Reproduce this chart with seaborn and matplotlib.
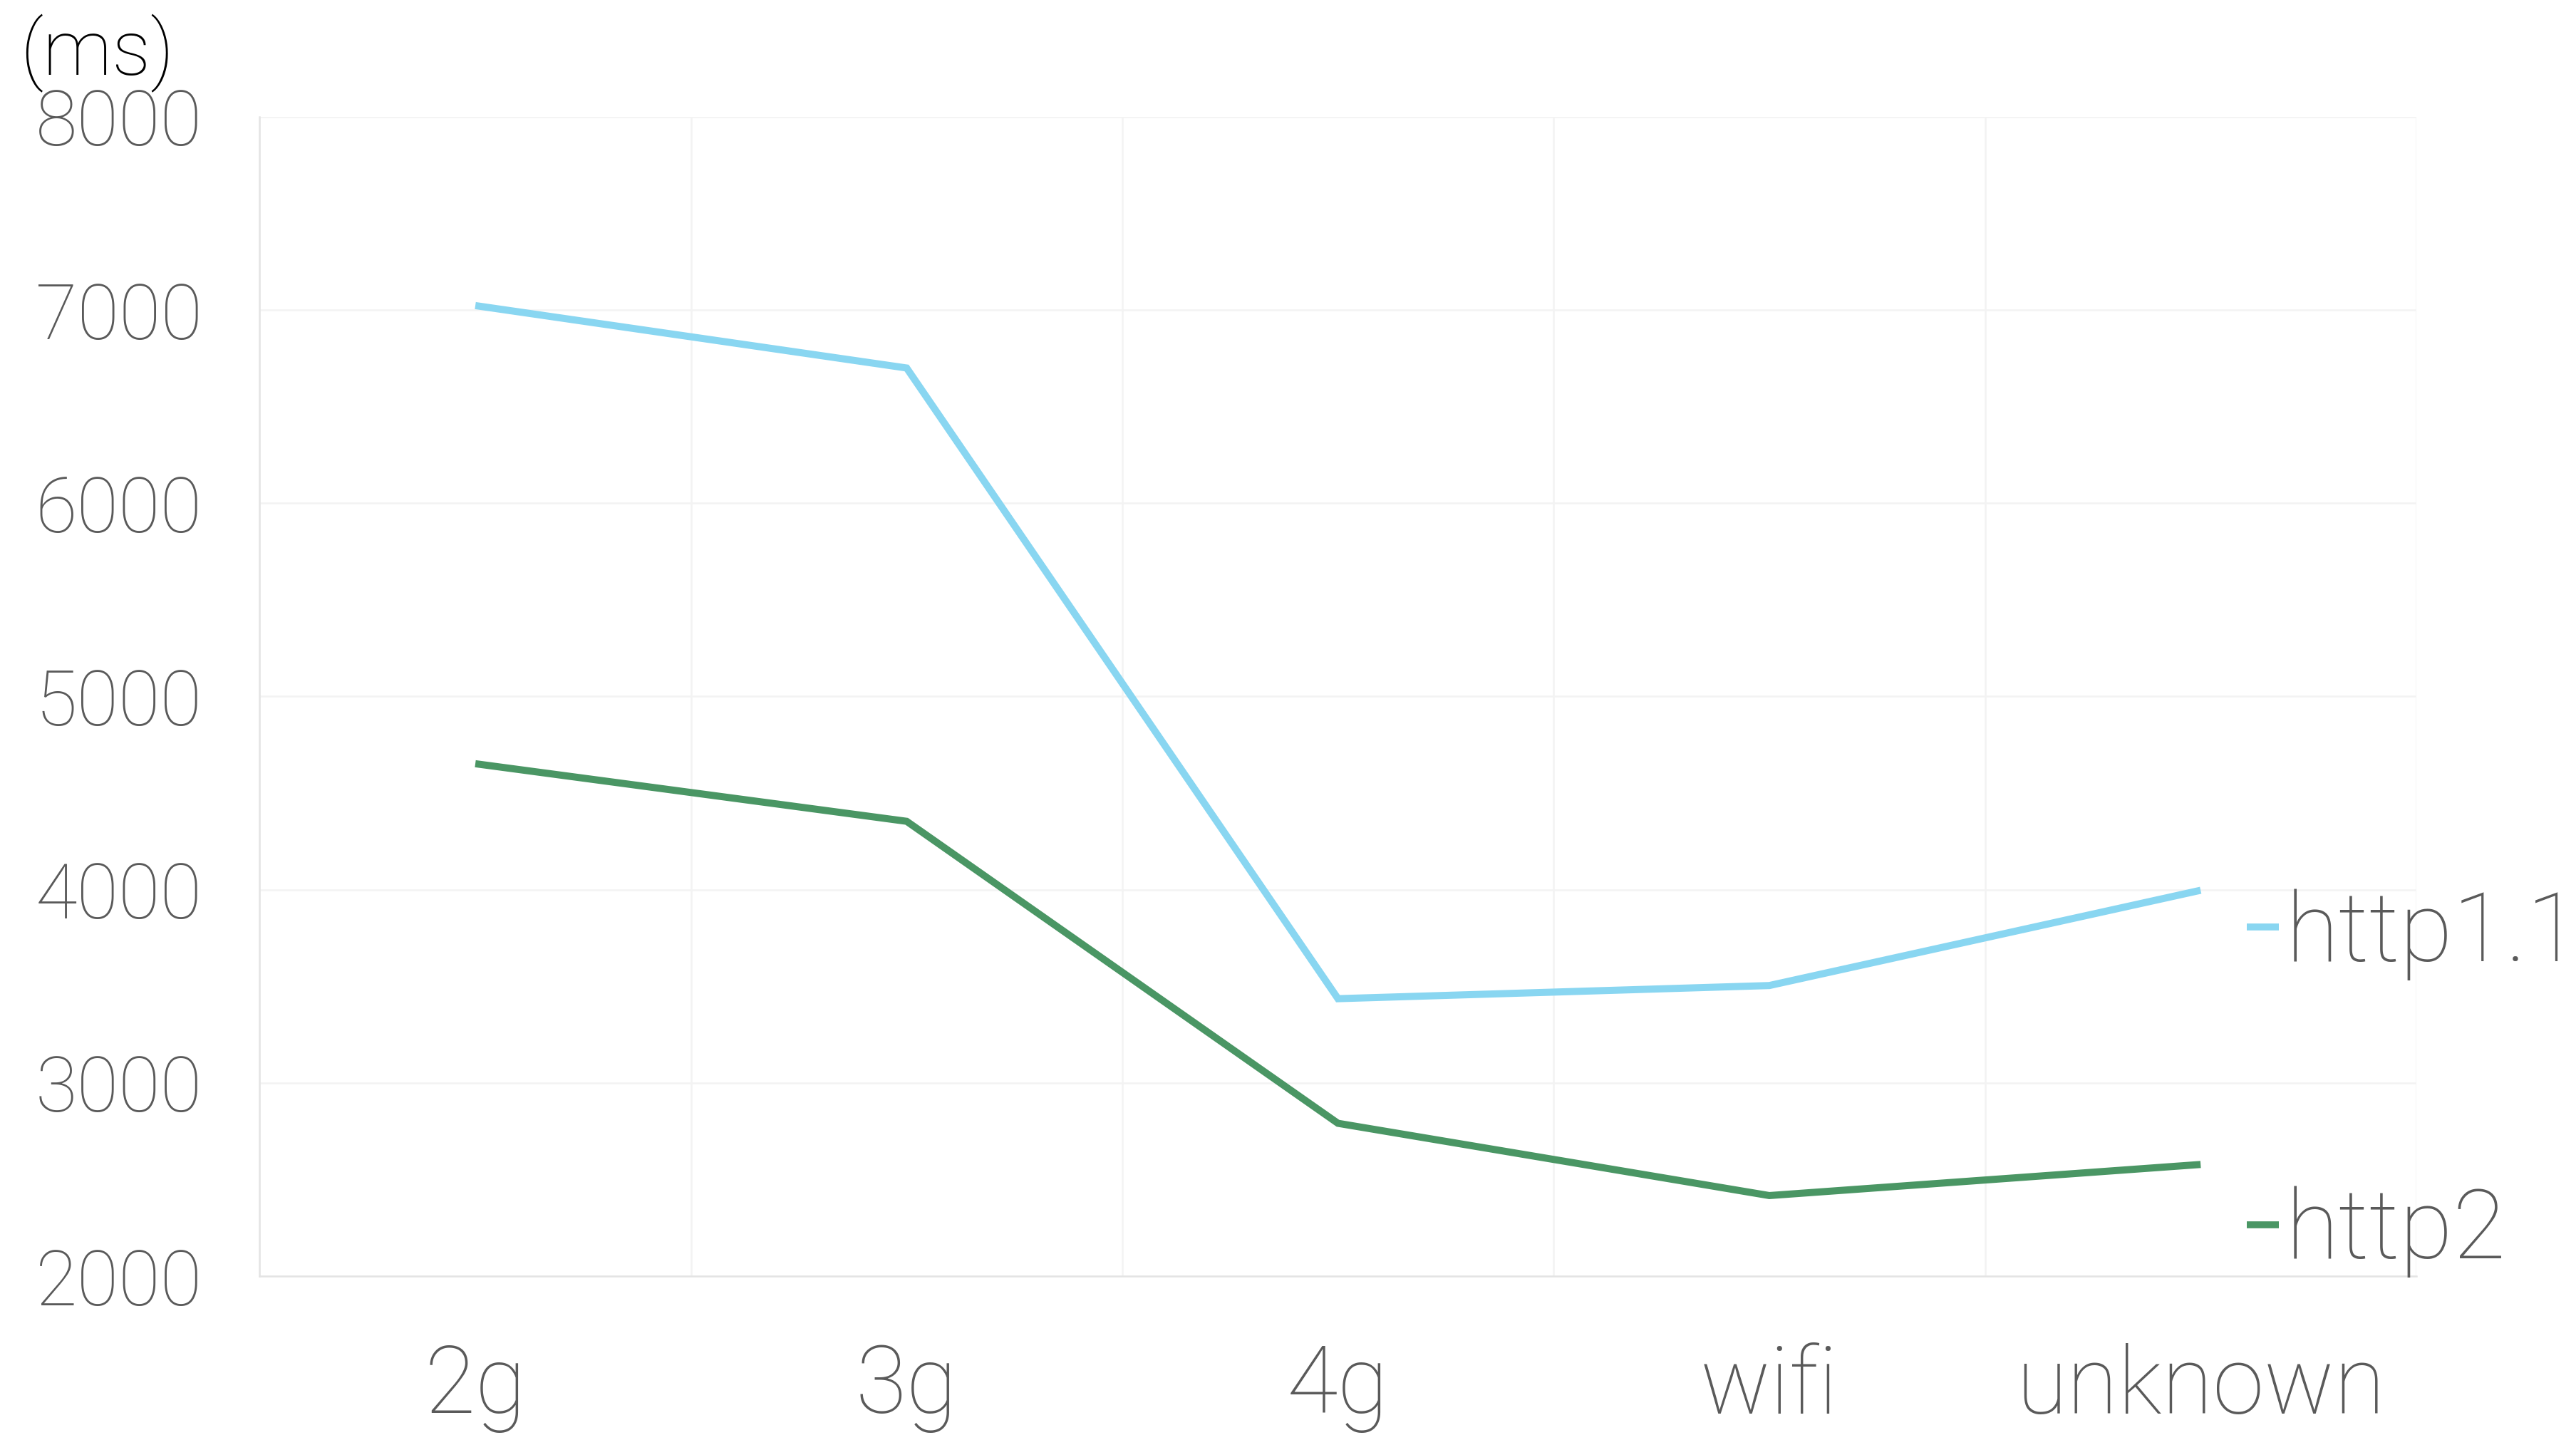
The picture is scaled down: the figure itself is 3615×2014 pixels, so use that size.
import pandas as pd
import numpy as np
import matplotlib
matplotlib.use("Agg")
import matplotlib.pyplot as plt
import seaborn as sns

networks = ["2g", "3g", "4g", "wifi", "unknown"]
http11 = [7023, 6700, 3436, 3504, 3997]
http2 = [4652, 4354, 2791, 2417, 2578]
series_names = ["http1.1", "http2"]
colors = {"http1.1": "#89d6f1", "http2": "#4a9664"}
y_ticks = [2000, 3000, 4000, 5000, 6000, 7000, 8000]

df = pd.DataFrame({
    "network": networks * 2,
    "ms": http11 + http2,
    "protocol": ["http1.1"] * 5 + ["http2"] * 5,
})

sns.set_style("white")
plt.rcParams["font.family"] = ["Roboto", "DejaVu Sans"]

fig = plt.figure(figsize=(36.15, 20.14), dpi=100)
ax = fig.add_axes([0.1008, 0.1107, 0.8372, 0.8079])

sns.lineplot(data=df, x="network", y="ms", hue="protocol", palette=colors,
             linewidth=7.2, ax=ax, sort=False, solid_capstyle="butt",
             solid_joinstyle="miter")

ax.set_xlim(-0.5, 4.5)
ax.set_ylim(2000, 8000)
ax.set_yticks(y_ticks)
ax.set_xticks(range(5))
ax.set_xticklabels(networks)
ax.set_xticks(np.arange(-0.5, 5, 1), minor=True)
ax.grid(False)
ax.grid(axis="y", which="major", color="#f3f3f3", linewidth=1.8)
ax.grid(axis="x", which="minor", color="#f3f3f3", linewidth=1.8)
ax.tick_params(axis="both", which="both", length=0)
ax.tick_params(axis="y", labelsize=77, labelcolor="#5a5a5a", pad=58)
ax.tick_params(axis="x", labelsize=94, labelcolor="#5a5a5a", pad=68)
for lab in ax.get_xticklabels() + ax.get_yticklabels():
    lab.set_fontweight("light")
ax.set_xlabel("")
ax.set_ylabel("")

for side in ["top", "right"]:
    ax.spines[side].set_visible(False)
for side in ["left", "bottom"]:
    ax.spines[side].set_color("#e4e4e4")
    ax.spines[side].set_linewidth(1.8)

leg = ax.legend(loc="upper left", bbox_to_anchor=(0.9215, 0.334), frameon=False,
                fontsize=98, handlelength=0.33, handletextpad=0.07,
                labelspacing=2.12, borderaxespad=0, borderpad=0)
for t in leg.get_texts():
    t.set_color("#5a5a5a")
    t.set_fontweight("light")
for h in leg.get_lines():
    h.set_linewidth(7)

fig.text(0.0077, 0.99, "(ms)", fontsize=78, color="black", fontweight="light",
         ha="left", va="top")

fig.savefig("out.png", dpi=100, facecolor="white")
